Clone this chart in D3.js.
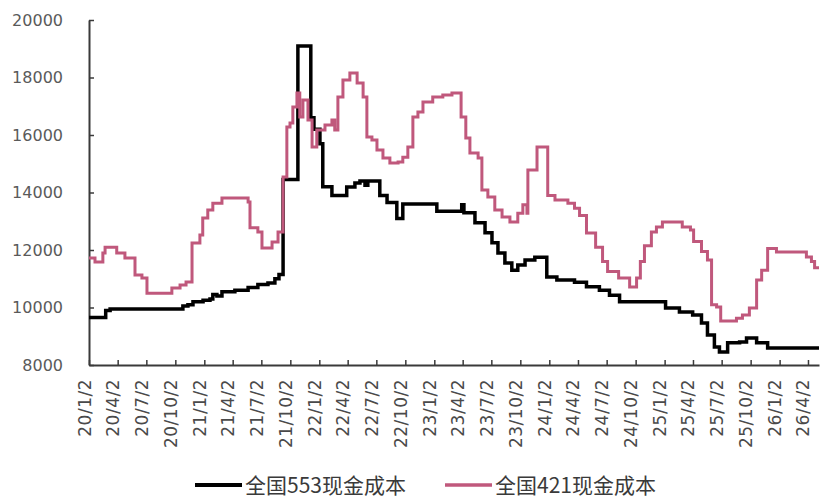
<!DOCTYPE html>
<html>
<head>
<meta charset="utf-8">
<script src="https://cdn.jsdelivr.net/npm/d3@7/dist/d3.min.js"></script>
<style>
  html, body { margin: 0; padding: 0; background: #fff; }
  svg { display: block; }
</style>
</head>
<body>
<svg id="chart" width="820" height="499"></svg>
<script>
// Quarterly axis labels (yy/m/d)
const tickLabels = ["20/1/2","20/4/2","20/7/2","20/10/2","21/1/2","21/4/2","21/7/2","21/10/2",
  "22/1/2","22/4/2","22/7/2","22/10/2","23/1/2","23/4/2","23/7/2","23/10/2",
  "24/1/2","24/4/2","24/7/2","24/10/2","25/1/2","25/4/2","25/7/2","25/10/2",
  "26/1/2","26/4/2"];
const yTicks = [8000, 10000, 12000, 14000, 16000, 18000, 20000];
const seriesNames = ["全国553现金成本", "全国421现金成本"];
const lastDate = "2026-05-07";

// 全国553现金成本: dates where the cost changes, and the new level
const dates553 = ["2020-01-02","2020-02-24","2020-03-09","2020-10-26","2020-11-11","2020-11-27",
  "2020-12-29","2021-01-20","2021-01-29","2021-02-11","2021-02-27","2021-04-09","2021-05-21",
  "2021-06-21","2021-07-23","2021-08-14","2021-08-27","2021-09-09","2021-10-26","2021-12-06",
  "2021-12-16","2022-01-04","2022-01-13","2022-02-11","2022-03-30","2022-04-25","2022-05-11",
  "2022-05-27","2022-06-05","2022-07-13","2022-08-05","2022-09-05","2022-09-24","2023-01-10",
  "2023-03-30","2023-04-06","2023-05-11","2023-06-12","2023-07-04","2023-07-23","2023-08-14",
  "2023-09-05","2023-09-24","2023-10-17","2023-11-17","2023-12-25","2024-01-26","2024-03-22",
  "2024-04-29","2024-06-09","2024-07-11","2024-08-12","2025-01-05","2025-02-18","2025-04-01",
  "2025-04-29","2025-05-18","2025-06-09","2025-06-25","2025-07-21","2025-08-28","2025-09-19",
  "2025-10-21","2025-11-25", lastDate];
const values553 = [9650,9900,9950,10050,10100,10200,
  10250,10300,10450,10400,10550,10600,10700,
  10800,10850,11000,11150,14450,19100,16600,
  16200,15700,14200,13900,14190,14330,14400,
  14250,14400,13900,13650,13100,13600,13350,
  13570,13300,12950,12600,12250,11900,11550,
  11300,11480,11650,11750,11060,10960,10880,
  10720,10600,10430,10200,9980,9840,9740,
  9460,9040,8630,8450,8770,8800,8940,
  8770,8590,8590];

// 全国421现金成本
const dates421 = ["2020-01-02","2020-01-21","2020-02-15","2020-02-22","2020-03-30","2020-04-25",
  "2020-05-27","2020-06-18","2020-07-04","2020-09-21","2020-10-17","2020-11-05","2020-11-24",
  "2020-12-19","2020-12-28","2021-01-13","2021-01-29","2021-02-27","2021-05-21","2021-05-27",
  "2021-06-21","2021-07-04","2021-08-05","2021-08-24","2021-09-09","2021-09-21","2021-10-01",
  "2021-10-10","2021-10-23","2021-11-01","2021-11-11","2021-11-27","2021-12-10","2021-12-25",
  "2022-01-20","2022-02-11","2022-02-20","2022-03-02","2022-03-18","2022-04-09","2022-05-02",
  "2022-05-21","2022-06-02","2022-06-18","2022-07-04","2022-07-23","2022-08-14","2022-09-09",
  "2022-09-24","2022-10-10","2022-10-26","2022-11-11","2022-11-27","2022-12-28","2023-01-29",
  "2023-02-27","2023-03-28","2023-04-12","2023-04-25","2023-05-21","2023-06-02","2023-06-21",
  "2023-07-13","2023-08-05","2023-08-30","2023-09-24","2023-10-10","2023-10-23","2023-10-26",
  "2023-11-24","2023-12-28","2024-01-20","2024-03-01","2024-03-22","2024-04-07","2024-04-29",
  "2024-05-28","2024-06-19","2024-07-05","2024-08-09","2024-09-13","2024-10-05","2024-10-17",
  "2024-10-30","2024-11-21","2024-12-07","2024-12-26","2025-02-27","2025-03-25","2025-04-04",
  "2025-04-29","2025-05-18","2025-05-31","2025-06-16","2025-06-29","2025-08-18","2025-09-06",
  "2025-09-28","2025-10-21","2025-11-06","2025-11-25","2025-12-23","2026-03-28","2026-04-13",
  "2026-04-23", lastDate];
const values421 = [11720,11580,11900,12100,11900,11720,
  11130,11030,10500,10680,10780,10890,12240,
  12520,13110,13390,13630,13810,13670,12770,
  12630,12070,12280,12630,14540,16280,16420,
  16970,17460,16630,17220,16520,15580,16170,
  16350,16520,16170,17320,17910,18160,17810,
  17320,15930,15830,15480,15200,15030,15060,
  15230,15580,16630,16800,17150,17320,17390,
  17460,16630,15900,15370,15200,14090,13840,
  13390,13150,12970,13280,13570,13280,14780,
  15580,13900,13740,13630,13450,13200,12590,
  12100,11600,11250,11030,10710,11030,11600,
  12150,12630,12800,12970,12800,12700,12300,
  11950,11650,10100,10020,9530,9630,9740,
  9980,10960,11300,12050,11930,11760,11600,
  11380,11380];

const colors = ["#000000", "#c0587c"];

const parseISO = d3.timeParse("%Y-%m-%d");
const parseTick = d3.timeParse("%y/%m/%d");

const svg = d3.select("#chart");

const x = d3.scaleTime()
  .domain([parseISO("2020-01-02"), parseISO(lastDate)])
  .range([89, 819]);
const y = d3.scaleLinear().domain([8000, 20000]).range([365, 20]);

// Y axis with inward ticks
const yAxis = svg.append("g")
  .attr("transform", `translate(${x.range()[0]},0)`)
  .call(d3.axisLeft(y).tickValues(yTicks).tickFormat(d3.format("d"))
    .tickSizeInner(-5).tickSizeOuter(0).tickPadding(26));
yAxis.select(".domain").attr("stroke", "#3a3a3a").attr("stroke-width", 2);
yAxis.selectAll(".tick line").attr("stroke", "#3a3a3a").attr("stroke-width", 1.5);
yAxis.selectAll(".tick text")
  .attr("font-family", "'DejaVu Sans', sans-serif")
  .attr("font-size", 16)
  .attr("fill", "#5a5a5a");

// X axis with quarterly labels, rotated
const tickDates = tickLabels.map(parseTick);
const xAxis = svg.append("g")
  .attr("transform", `translate(0,${y.range()[0]})`)
  .call(d3.axisBottom(x).tickValues(tickDates)
    .tickFormat((d, i) => tickLabels[i])
    .tickSizeInner(-5).tickSizeOuter(0));
xAxis.select(".domain").attr("stroke", "#3a3a3a").attr("stroke-width", 2);
xAxis.selectAll(".tick line").attr("stroke", "#3a3a3a").attr("stroke-width", 1.5);
xAxis.selectAll(".tick text")
  .attr("font-family", "'DejaVu Sans', sans-serif")
  .attr("font-size", 17)
  .attr("letter-spacing", "0.5px")
  .attr("fill", "#4a4a4a")
  .attr("text-anchor", "end")
  .attr("dy", null)
  .attr("y", 0)
  .attr("x", 0)
  .attr("transform", "translate(1,14) rotate(-90)");

// Step lines
const line = d3.line()
  .x(d => x(d.date))
  .y(d => y(d.value))
  .curve(d3.curveStepAfter);

const series = [
  { name: seriesNames[0], dates: dates553, values: values553, color: colors[0], width: 3.5 },
  { name: seriesNames[1], dates: dates421, values: values421, color: colors[1], width: 3 }
];

series.forEach(s => {
  const pts = s.dates.map((d, i) => ({ date: parseISO(d), value: s.values[i] }));
  svg.append("path")
    .datum(pts)
    .attr("fill", "none")
    .attr("stroke", s.color)
    .attr("stroke-width", s.width)
    .attr("stroke-linejoin", "miter")
    .attr("d", line);
});

// Legend
const legendX = [195, 445];
const legend = svg.append("g");
series.forEach((s, i) => {
  const g = legend.append("g").attr("transform", `translate(${legendX[i]},485)`);
  g.append("line").attr("x1", 0).attr("x2", 47).attr("y1", 0).attr("y2", 0)
    .attr("stroke", s.color).attr("stroke-width", i === 0 ? 4 : 3.5);
  g.append("text")
    .attr("x", 50).attr("y", 0).attr("dy", "0.36em")
    .attr("font-family", "'Noto Sans CJK SC', sans-serif")
    .attr("font-size", 21)
    .attr("fill", "#3a3a3a")
    .text(s.name);
});
</script>
</body>
</html>
